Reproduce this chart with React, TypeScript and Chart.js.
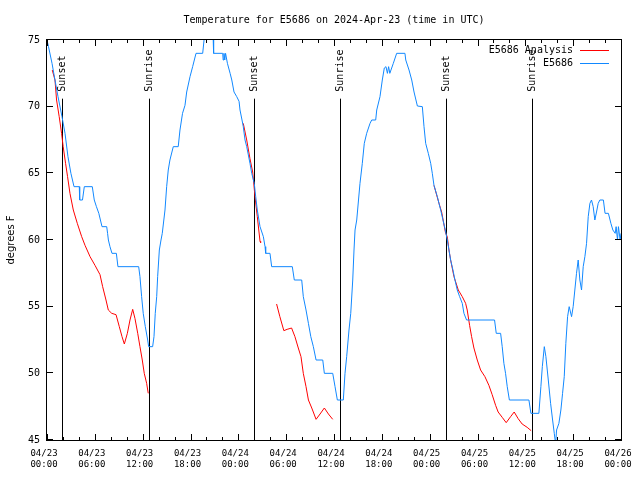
import React, { useEffect, useRef } from "react";
import { Chart, registerables } from "chart.js";

Chart.register(...registerables);

const titleText = "Temperature for E5686 on 2024-Apr-23 (time in UTC)";
const yAxisTitle = "degrees F";
const seriesNames = ["E5686 Analysis", "E5686"];
const seriesColors = ["#ff0000", "#1188ff"];

// x axis: hours since 04/23 00:00 UTC
const xMin = 0;
const xMax = 72;
const xMajorStep = 6;
const xMinorStep = 2;
const xTickDates = ["04/23", "04/23", "04/23", "04/23", "04/24", "04/24", "04/24", "04/24", "04/25", "04/25", "04/25", "04/25", "04/26"];
const xTickTimes = ["00:00", "06:00", "12:00", "18:00", "00:00", "06:00", "12:00", "18:00", "00:00", "06:00", "12:00", "18:00", "00:00"];
const yMin = 45;
const yMax = 75;
const yStep = 5;

// Sunset / sunrise markers
const eventHours = [1.92, 12.79, 26.0, 36.79, 50.09, 60.88];
const eventLabels = ["Sunset", "Sunrise", "Sunset", "Sunrise", "Sunset", "Sunrise"];
const eventTop = 70.6;

// E5686 observations
const obsHours = [
  0.0, 0.19, 0.63, 1.0, 1.38, 1.88, 2.26, 2.63, 3.0, 3.39, 4.05, 4.1, 4.45, 4.68, 5.68, 5.93, 6.2, 6.5, 6.9, 7.49,
  7.6, 7.7, 7.9, 8.15, 8.7, 8.9, 11.5, 11.66, 11.87, 12.07, 12.33, 12.63, 12.75, 13.25, 13.42, 13.58, 13.76, 13.88, 14.09, 14.3,
  14.46, 14.8, 15.01, 15.21, 15.42, 15.84, 16.46, 16.68, 17.0, 17.31, 17.52, 17.94, 18.27, 18.69, 19.53, 19.7, 20.0, 20.6, 20.85, 20.9,
  22.04, 22.1, 22.2, 22.3, 22.4, 22.63, 22.97, 23.18, 23.46, 23.8, 24.09, 24.21, 24.46, 24.62, 24.84, 25.05, 25.46, 25.68, 26.0, 26.18,
  26.38, 26.72, 27.14, 27.35, 27.43, 27.97, 28.18, 30.77, 31.02, 31.95, 32.15, 32.49, 32.79, 33.09, 33.41, 33.75, 34.59, 34.79, 35.84, 36.13,
  36.42, 37.17, 37.38, 37.59, 37.88, 38.1, 38.35, 38.51, 38.64, 38.85, 39.26, 39.55, 39.8, 40.1, 40.52, 40.73, 41.23, 41.36, 41.77, 42.06,
  42.31, 42.52, 42.7, 42.85, 43.0, 43.44, 43.86, 44.9, 45.0, 45.41, 45.75, 46.04, 46.46, 47.08, 47.29, 47.5, 47.83, 48.13, 48.33, 48.54,
  48.96, 49.38, 49.67, 49.96, 50.21, 50.42, 50.63, 50.92, 51.17, 51.46, 51.76, 52.09, 52.3, 52.63, 56.14, 56.35, 56.9, 57.1, 57.31, 57.52,
  57.73, 58.0, 60.45, 60.7, 61.7, 61.95, 62.13, 62.38, 62.58, 62.88, 63.17, 63.42, 63.63, 63.8, 63.92, 64.21, 64.46, 64.67, 64.88, 65.08,
  65.3, 65.5, 65.8, 66.0, 66.21, 66.42, 66.63, 66.84, 67.05, 67.26, 67.47, 67.68, 67.89, 68.1, 68.3, 68.51, 68.72, 68.93, 69.14, 69.35,
  69.79, 70.0, 70.42, 70.73, 70.98, 71.27, 71.39, 71.56, 71.68, 71.89, 72.0,
];
const obsTemps = [
  75, 74.5, 73.25, 72, 70.75, 69.25, 68, 66.25, 65, 64, 64, 63, 63, 64, 64, 63, 62.5, 62, 61, 61,
  60.5, 60, 59.5, 59, 59, 58, 58, 57.25, 55.75, 54.5, 53.5, 52.5, 52, 52, 52.75, 54.5, 55.75, 57.25, 59.25, 60,
  60.5, 62.25, 64, 65.25, 66, 67, 67, 68.25, 69.5, 70.1, 71.1, 72.25, 73, 74, 74, 75, 75.5, 75.5, 75, 74,
  74, 73.5, 74, 73.5, 74, 73.25, 72.5, 72, 71.1, 70.75, 70.4, 69.75, 69, 68.5, 67.5, 67, 65.75, 65, 64.25, 63.25,
  62.25, 61, 60.25, 59.5, 59, 59, 58, 58, 57, 57, 55.75, 54.75, 53.75, 52.75, 52, 51, 51, 50, 50, 49,
  48, 48, 50, 51.25, 53.25, 54.5, 57, 59.25, 60.75, 61.5, 64.25, 65.75, 67.25, 68, 68.75, 69, 69, 69.75, 70.75, 72,
  72.9, 73, 72.5, 73, 72.5, 73.25, 74, 74, 73.5, 72.75, 72, 71.1, 70.05, 70, 68.5, 67.25, 66.5, 65.75, 65, 64.1,
  63.25, 62.25, 61.5, 60.75, 60, 59.25, 58.5, 57.75, 57, 56.25, 55.75, 55.25, 54.5, 54, 54, 53, 53, 52, 50.75, 50,
  49, 48, 48, 47, 47, 49, 50.5, 52, 51.25, 49.5, 47.75, 46.5, 45.5, 44.7, 45.75, 46.25, 47.25, 48.5, 49.75, 52.25,
  54.25, 55, 54.25, 55, 56.25, 57.5, 58.5, 57, 56.25, 58, 58.75, 59.75, 61.75, 62.75, 63, 62.5, 61.5, 62.1, 62.75, 63,
  63, 62, 62, 61.25, 60.75, 60.5, 61, 60, 61, 60, 60.5,
];

// E5686 Analysis (null = gap)
const anaHours = [
  0.66, 1.0, 1.2, 1.53, 1.83, 2.03, 2.33, 2.58, 2.88, 3.3, 3.8, 4.35, 4.77, 5.4, 6.02, 6.65, 6.98, 7.4, 7.69, 8.12,
  8.66, 9.07, 9.41, 9.7, 10.08, 10.41, 10.75, 11.04, 11.38, 11.66, 11.95, 12.2, 12.5, 12.7,
  18.0,
  24.62, 25.05, 25.46, 25.8, 26.09, 26.38, 26.72, 26.8,
  27.8,
  28.8, 29.21, 29.71, 30.12, 30.68, 31.1, 31.52, 31.86, 32.15, 32.49, 32.79, 33.21, 33.75, 34.25, 34.79, 35.3, 35.84,
  42.0,
  48.54, 49.17, 49.5, 50.0, 50.21, 50.42, 50.63, 51.05, 51.59, 52.09, 52.51, 52.71, 53.01, 53.26, 53.55, 53.97, 54.39, 54.93, 55.43, 55.84,
  56.27, 56.59, 57.1, 57.6, 58.15, 58.6, 59.1, 59.6, 60.23, 60.73,
];
const anaTemps = [
  72.75, 72, 70.5, 69.25, 68, 67, 65.75, 64.75, 63.5, 62.25, 61.25, 60.25, 59.6, 58.75, 58.1, 57.4, 56.5, 55.5, 54.75, 54.5,
  54.4, 53.5, 52.75, 52.2, 53, 54, 54.8, 54.1, 53, 52, 51, 50, 49.25, 48.5,
  null,
  68.75, 67.5, 66.1, 65.1, 63.25, 61.75, 59.9, 59.8,
  null,
  55.2, 54.25, 53.2, 53.3, 53.4, 52.75, 51.9, 51.25, 50, 49, 48, 47.4, 46.55, 46.95, 47.4, 46.95, 46.55,
  null,
  64.1, 62.75, 62.1, 60.5, 60.25, 59.25, 58.5, 57.25, 56.25, 55.75, 55.25, 54.75, 53.6, 52.75, 51.9, 51, 50.25, 49.75, 49.1, 48.4,
  47.6, 47.1, 46.7, 46.3, 46.75, 47.1, 46.6, 46.2, 45.95, 45.7,
];

const MONO = "'DejaVu Sans Mono', monospace";

const decorPlugin = {
  id: "decor",
  beforeDatasetsDraw(chart: any) {
    const { ctx, chartArea: a, scales } = chart;
    const xs = scales.x;
    const ys = scales.y;
    ctx.save();
    ctx.strokeStyle = "#000";
    ctx.fillStyle = "#000";
    ctx.lineWidth = 1;
    const top = ys.getPixelForValue(eventTop);
    eventHours.forEach((h, i) => {
      const px = Math.round(xs.getPixelForValue(h)) + 0.5;
      ctx.beginPath();
      ctx.moveTo(px, top);
      ctx.lineTo(px, a.bottom);
      ctx.stroke();
      ctx.save();
      ctx.translate(px, top - 7);
      ctx.rotate(-Math.PI / 2);
      ctx.font = "10px " + MONO;
      ctx.textAlign = "left";
      ctx.textBaseline = "middle";
      ctx.fillText(eventLabels[i], 0, 0);
      ctx.restore();
    });
    ctx.restore();
  },
  afterDraw(chart: any) {
    const { ctx, chartArea: a, scales } = chart;
    const xs = scales.x;
    const ys = scales.y;
    ctx.save();
    ctx.strokeStyle = "#000";
    ctx.lineWidth = 1;
    ctx.strokeRect(a.left - 0.5, a.top - 0.5, a.right - a.left + 1, a.bottom - a.top + 1);
    ctx.beginPath();
    for (let v = xMin; v <= xMax; v += xMinorStep) {
      const px = Math.round(xs.getPixelForValue(v)) + 0.5;
      const len = v % xMajorStep === 0 ? 6 : 3;
      ctx.moveTo(px, a.bottom);
      ctx.lineTo(px, a.bottom - len);
      ctx.moveTo(px, a.top);
      ctx.lineTo(px, a.top + len);
    }
    for (let v = yMin; v <= yMax; v += yStep) {
      const py = Math.round(ys.getPixelForValue(v)) - 0.5;
      ctx.moveTo(a.left, py);
      ctx.lineTo(a.left + 6, py);
      ctx.moveTo(a.right, py);
      ctx.lineTo(a.right - 6, py);
    }
    ctx.stroke();

    // title
    ctx.fillStyle = "#000";
    ctx.font = "10px " + MONO;
    ctx.textAlign = "center";
    ctx.textBaseline = "middle";
    ctx.fillText(titleText, (a.left + a.right) / 2, 20);

    // legend
    const legendTextRight = a.right - 48;
    const legendLineStart = a.right - 41;
    const legendLineEnd = a.right - 12;
    seriesNames.forEach((name, i) => {
      const ly = 50 + i * 13;
      ctx.fillStyle = "#000";
      ctx.textAlign = "right";
      ctx.fillText(name, legendTextRight, ly);
      ctx.strokeStyle = seriesColors[i];
      ctx.beginPath();
      ctx.moveTo(legendLineStart, ly + 0.5);
      ctx.lineTo(legendLineEnd, ly + 0.5);
      ctx.stroke();
    });
    ctx.restore();
  },
};

export default function App() {
  const canvasRef = useRef<HTMLCanvasElement | null>(null);

  useEffect(() => {
    document.body.style.margin = "0";
    const canvas = canvasRef.current;
    if (!canvas) return;
    const chart = new Chart(canvas, {
      type: "line",
      data: {
        datasets: [
          {
            label: seriesNames[0],
            data: anaHours.map((h, i) => ({ x: h, y: anaTemps[i] })),
            borderColor: seriesColors[0],
            backgroundColor: seriesColors[0],
            borderWidth: 1,
            pointRadius: 0,
            tension: 0,
            spanGaps: false,
            order: 1,
          },
          {
            label: seriesNames[1],
            data: obsHours.map((h, i) => ({ x: h, y: obsTemps[i] })),
            borderColor: seriesColors[1],
            backgroundColor: seriesColors[1],
            borderWidth: 1,
            pointRadius: 0,
            tension: 0,
            order: 0,
          },
        ],
      },
      plugins: [decorPlugin],
      options: {
        animation: false,
        responsive: false,
        maintainAspectRatio: false,
        devicePixelRatio: 1,
        layout: { padding: { top: 40, right: 19, left: 0, bottom: 0 } },
        plugins: {
          legend: { display: false },
          title: { display: false },
          tooltip: { enabled: false },
        },
        scales: {
          x: {
            type: "linear",
            min: xMin,
            max: xMax,
            afterFit: (s: any) => {
              s.height = 40;
              s.paddingLeft = 0;
              s.paddingRight = 0;
            },
            afterBuildTicks: (s: any) => {
              const t = [];
              for (let v = xMin; v <= xMax; v += xMajorStep) t.push({ value: v });
              s.ticks = t;
            },
            grid: { display: false, drawTicks: false },
            border: { display: false },
            ticks: {
              color: "#000",
              font: { family: MONO, size: 9, lineHeight: 1.2 },
              padding: 8,
              labelOffset: -3,
              maxRotation: 0,
              autoSkip: false,
              callback: (_v: any, idx: number) => [xTickDates[idx], xTickTimes[idx]],
            },
          },
          y: {
            type: "linear",
            min: yMin,
            max: yMax,
            afterFit: (s: any) => {
              s.width = 47;
              s.paddingTop = 0;
              s.paddingBottom = 0;
            },
            grid: { display: false, drawTicks: false },
            border: { display: false },
            ticks: {
              stepSize: yStep,
              color: "#000",
              font: { family: MONO, size: 10 },
              padding: 7,
            },
            title: {
              display: true,
              text: yAxisTitle,
              color: "#000",
              font: { family: "'DejaVu Sans', sans-serif", size: 10 },
              padding: { top: 5, bottom: 0 },
            },
          },
        },
      },
    } as any);
    return () => chart.destroy();
  }, []);

  return (
    <div style={{ width: 640, height: 480 }}>
      <canvas ref={canvasRef} width={640} height={480} style={{ display: "block" }} />
    </div>
  );
}
